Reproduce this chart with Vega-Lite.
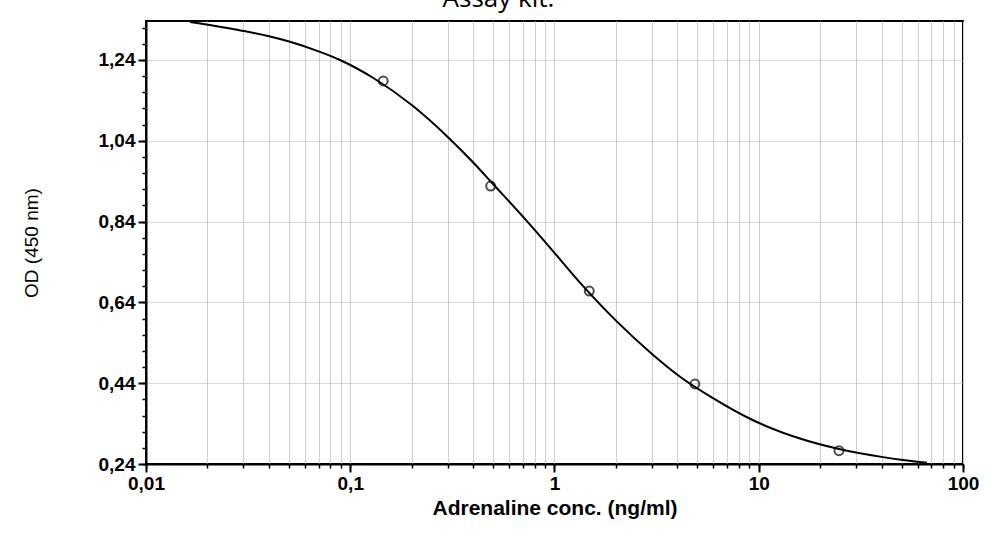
{
  "$schema": "https://vega.github.io/schema/vega-lite/v6.json",
  "autosize": "none",
  "width": 817,
  "height": 443,
  "padding": {"left": 146, "top": 21, "right": 26, "bottom": 86},
  "background": "white",
  "config": {
    "locale": {"number": {"decimal": ",", "thousands": ".", "grouping": [3], "currency": ["", " €"]}},
    "view": {"stroke": "black", "strokeWidth": 2},
    "font": "Liberation Sans"
  },
  "title": {
    "text": "Assay kit.",
    "font": "Open Sans",
    "fontSize": 26,
    "fontWeight": "normal",
    "color": "black",
    "anchor": "middle",
    "frame": "group",
    "baseline": "alphabetic",
    "offset": -12,
    "dx": -56
  },
  "datasets": {
    "curve": [
      {"conc": 0.01642, "od": 1.334},
      {"conc": 0.02985, "od": 1.312},
      {"conc": 0.04046, "od": 1.298},
      {"conc": 0.0507, "od": 1.285},
      {"conc": 0.0711, "od": 1.260},
      {"conc": 0.0891, "od": 1.240},
      {"conc": 0.1292, "od": 1.196},
      {"conc": 0.2029, "od": 1.126},
      {"conc": 0.301, "od": 1.049},
      {"conc": 0.399, "od": 0.987},
      {"conc": 0.500, "od": 0.933},
      {"conc": 0.742, "od": 0.838},
      {"conc": 0.983, "od": 0.767},
      {"conc": 1.333, "od": 0.689},
      {"conc": 2.017, "od": 0.593},
      {"conc": 2.991, "od": 0.513},
      {"conc": 4.117, "od": 0.456},
      {"conc": 5.97, "od": 0.403},
      {"conc": 9.06, "od": 0.352},
      {"conc": 15.92, "od": 0.303},
      {"conc": 24.72, "od": 0.277},
      {"conc": 40.6, "od": 0.257},
      {"conc": 50.8, "od": 0.250},
      {"conc": 66.6, "od": 0.243}
    ],
    "points": [
      {"conc": 0.145, "od": 1.188},
      {"conc": 0.487, "od": 0.928},
      {"conc": 1.48, "od": 0.668},
      {"conc": 4.87, "od": 0.438},
      {"conc": 24.7, "od": 0.273}
    ]
  },
  "layer": [
    {
      "data": {"name": "curve"},
      "mark": {"type": "line", "color": "black", "strokeWidth": 2, "interpolate": "monotone", "clip": true},
      "encoding": {
        "x": {
          "field": "conc", "type": "quantitative",
          "scale": {"type": "log", "domain": [0.01, 100], "nice": false},
          "axis": {
            "values": [0.01,0.02,0.03,0.04,0.05,0.06,0.07,0.08,0.09,0.1,0.2,0.3,0.4,0.5,0.6,0.7,0.8,0.9,1,2,3,4,5,6,7,8,9,10,20,30,40,50,60,70,80,90,100],
            "labels": false, "title": null, "domain": false,
            "grid": true, "gridColor": "#cccccc", "gridWidth": 1,
            "ticks": true, "tickSize": 4, "tickColor": "black", "tickWidth": 1.5
          }
        },
        "y": {
          "field": "od", "type": "quantitative",
          "scale": {"domain": [0.24, 1.3365], "nice": false, "zero": false},
          "axis": {
            "values": [0.24,0.28,0.32,0.36,0.40,0.44,0.48,0.52,0.56,0.60,0.64,0.68,0.72,0.76,0.80,0.84,0.88,0.92,0.96,1.00,1.04,1.08,1.12,1.16,1.20,1.24,1.28,1.32],
            "labels": false, "title": null, "domain": false, "grid": false,
            "ticks": true, "tickSize": 4, "tickColor": "black", "tickWidth": 1.5
          }
        }
      }
    },
    {
      "data": {"name": "points"},
      "mark": {"type": "point", "shape": "circle", "filled": false, "color": "black", "size": 80, "strokeWidth": 2},
      "encoding": {
        "x": {
          "field": "conc", "type": "quantitative",
          "scale": {"type": "log", "domain": [0.01, 100], "nice": false},
          "axis": {
            "orient": "bottom",
            "values": [0.01, 0.1, 1, 10, 100],
            "format": "~g",
            "grid": false,
            "domain": true, "domainColor": "black", "domainWidth": 2,
            "ticks": true, "tickSize": 8, "tickColor": "black", "tickWidth": 2,
            "labelFont": "Liberation Sans", "labelFontWeight": "bold", "labelFontSize": 19, "labelColor": "black",
            "labelPadding": 2, "labelFlush": false,
            "title": "Adrenaline conc. (ng/ml)",
            "titleFont": "Liberation Sans", "titleFontWeight": "bold", "titleFontSize": 21, "titleColor": "black",
            "titlePadding": 4
          }
        },
        "y": {
          "field": "od", "type": "quantitative",
          "scale": {"domain": [0.24, 1.3365], "nice": false, "zero": false},
          "axis": {
            "orient": "left",
            "values": [0.24, 0.44, 0.64, 0.84, 1.04, 1.24],
            "format": ".2f",
            "grid": true, "gridColor": "#b4b4b4", "gridDash": [1, 1], "gridWidth": 1,
            "domain": true, "domainColor": "black", "domainWidth": 2,
            "ticks": true, "tickSize": 8, "tickColor": "black", "tickWidth": 2,
            "labelFont": "Liberation Sans", "labelFontWeight": "bold", "labelFontSize": 19, "labelColor": "black",
            "labelPadding": 3,
            "title": "OD (450 nm)",
            "titleFont": "Liberation Sans", "titleFontWeight": "normal", "titleFontSize": 19, "titleColor": "black",
            "titlePadding": 57
          }
        }
      }
    }
  ],
  "resolve": {"axis": {"x": "independent", "y": "independent"}}
}
